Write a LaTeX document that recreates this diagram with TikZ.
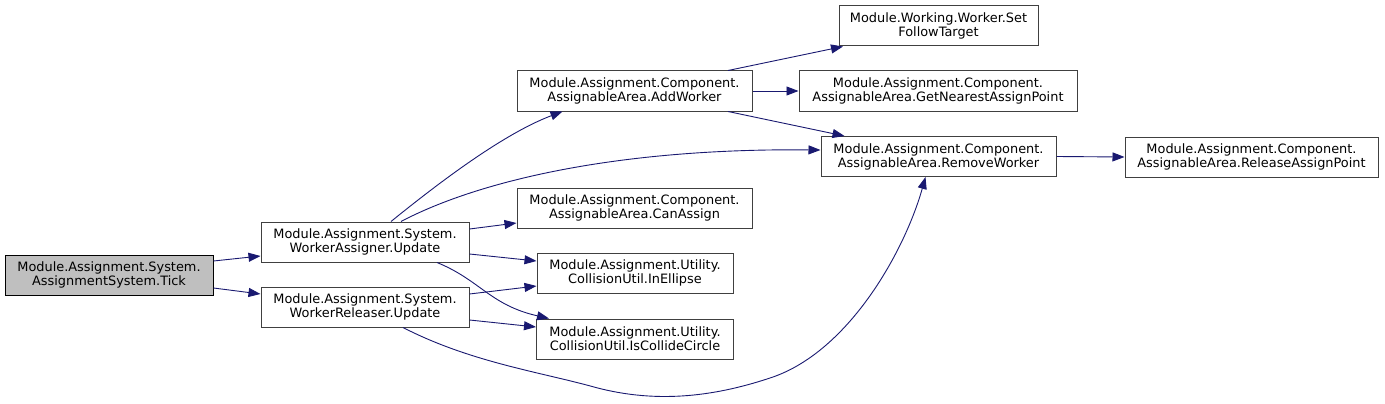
\documentclass[tikz,border=0pt]{standalone}
\usepackage{fontspec}
\setmainfont{DejaVu Sans}
\usepackage{tikz}
\usetikzlibrary{arrows.meta, positioning, calc}
\usepackage{xcolor}
\definecolor{edgeblue}{HTML}{191970}
\definecolor{boxgray}{HTML}{404040}
\definecolor{rootfill}{HTML}{BFBFBF}

\begin{document}
\begin{tikzpicture}[x=1pt, y=-1pt,
    fnbox/.style={draw=boxgray, fill=white, line width=1pt, minimum height=40pt, inner sep=0pt, align=center, font=\fontsize{12.9}{14}\selectfont},
    rootbox/.style={fnbox, draw=black, fill=rootfill},
    callarrow/.style={draw=edgeblue, line width=0.9pt, -{Triangle[length=12pt, width=9pt]}}]
    \useasboundingbox (0,0) rectangle (1385,404);
                \node[rootbox, minimum width=208pt] (tick) at (109,275) {Module.Assignment.System.\\AssignmentSystem.Tick};
                \node[fnbox, minimum width=208pt] (wau) at (365,242) {Module.Assignment.System.\\WorkerAssigner.Update};
                \node[fnbox, minimum width=208pt] (wru) at (365,307) {Module.Assignment.System.\\WorkerReleaser.Update};
                \node[fnbox, minimum width=235pt] (addw) at (634.5,91) {Module.Assignment.Component.\\AssignableArea.AddWorker};
                \node[fnbox, minimum width=235pt] (canas) at (634.5,208) {Module.Assignment.Component.\\AssignableArea.CanAssign};
                \node[fnbox, minimum width=196pt] (inell) at (635,273) {Module.Assignment.Utility.\\CollisionUtil.InEllipse};
                \node[fnbox, minimum width=197pt] (iscol) at (635,339) {Module.Assignment.Utility.\\CollisionUtil.IsCollideCircle};
                \node[fnbox, minimum width=199pt] (setft) at (938.5,26) {Module.Working.Worker.Set\\FollowTarget};
                \node[fnbox, minimum width=278pt] (getnp) at (938,91) {Module.Assignment.Component.\\AssignableArea.GetNearestAssignPoint};
                \node[fnbox, minimum width=235pt] (rmw) at (938.5,156.5) {Module.Assignment.Component.\\AssignableArea.RemoveWorker};
                \node[fnbox, minimum width=253pt] (relap) at (1251.5,157) {Module.Assignment.Component.\\AssignableArea.ReleaseAssignPoint};

                \draw[callarrow] ([yshift=14pt]tick.east) -- ([yshift=-14pt]wau.west);
                \draw[callarrow] ([yshift=-13pt]tick.east) -- ([yshift=13pt]wru.west);
                \draw[callarrow] ([xshift=26pt]wau.north) .. controls (430,190) and (500,135) .. ([xshift=-72pt]addw.south);
                \draw[callarrow] ([xshift=36pt]wau.north) .. controls (480,180) and (620,148) .. ([yshift=6.5pt]rmw.west);
                \draw[callarrow] ([yshift=13pt]wau.east) -- ([yshift=-15pt]canas.west);
                \draw[callarrow] ([yshift=-12pt]wau.east) -- ([yshift=12pt]inell.west);
                \draw[callarrow] ([xshift=72pt]wau.south) .. controls (480,280) and (490,305) .. ([xshift=-86pt]iscol.north);
                \draw[callarrow] ([yshift=13pt]wru.east) -- ([yshift=-13pt]inell.west);
                \draw[callarrow] ([yshift=-13pt]wru.east) -- ([yshift=12pt]iscol.west);
                \draw[callarrow] ([xshift=38pt]wru.south) .. controls (470,362) and (540,372) .. (594,387)
                    .. controls (660,405) and (720,395) .. (773,377)
                    .. controls (850,350) and (905,250) .. ([xshift=-13pt]rmw.south);
                \draw[callarrow] ([xshift=93.5pt]addw.north) -- ([xshift=-95.5pt]setft.south);
                \draw[callarrow] (addw.east) -- (getnp.west);
                \draw[callarrow] ([xshift=93.5pt]addw.south) -- ([xshift=-94pt]rmw.north);
                \draw[callarrow] (rmw.east) -- (relap.west);
            \end{tikzpicture}
\end{document}
